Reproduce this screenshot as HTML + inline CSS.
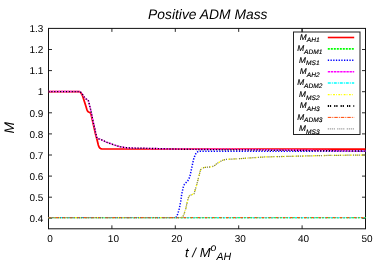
<!DOCTYPE html><html><head><meta charset="utf-8"><style>html,body{margin:0;padding:0;background:#fff}svg{display:block}svg{will-change:transform;transform:translateZ(0)}text{text-rendering:geometricPrecision;font-family:"Liberation Sans",sans-serif;fill:#000}</style></head><body>
<svg width="382" height="267" viewBox="0 0 382 267">
<rect width="382" height="267" fill="#fff"/>
<text x="207.8" y="18.6" font-size="13.85" font-style="italic" text-anchor="middle">Positive ADM Mass</text>
<rect x="48.5" y="28.4" width="317.0" height="200.4" fill="none" stroke="#111" stroke-width="1"/>
<text x="43.4" y="222.00" font-size="10" text-anchor="end">0.4</text>
<text x="43.4" y="200.90" font-size="10" text-anchor="end">0.5</text>
<text x="43.4" y="179.80" font-size="10" text-anchor="end">0.6</text>
<text x="43.4" y="158.70" font-size="10" text-anchor="end">0.7</text>
<text x="43.4" y="137.60" font-size="10" text-anchor="end">0.8</text>
<text x="43.4" y="116.50" font-size="10" text-anchor="end">0.9</text>
<text x="43.4" y="95.40" font-size="10" text-anchor="end">1</text>
<text x="43.4" y="74.30" font-size="10" text-anchor="end">1.1</text>
<text x="43.4" y="53.20" font-size="10" text-anchor="end">1.2</text>
<text x="43.4" y="32.10" font-size="10" text-anchor="end">1.3</text>
<text x="50.00" y="241.8" font-size="10" text-anchor="middle">0</text>
<text x="113.40" y="241.8" font-size="10" text-anchor="middle">10</text>
<text x="176.80" y="241.8" font-size="10" text-anchor="middle">20</text>
<text x="240.20" y="241.8" font-size="10" text-anchor="middle">30</text>
<text x="303.60" y="241.8" font-size="10" text-anchor="middle">40</text>
<text x="367.00" y="241.8" font-size="10" text-anchor="middle">50</text>
<path d="M48.50,218.30h3.5M365.50,218.30h-3.5M48.50,197.20h3.5M365.50,197.20h-3.5M48.50,176.10h3.5M365.50,176.10h-3.5M48.50,155.00h3.5M365.50,155.00h-3.5M48.50,133.90h3.5M365.50,133.90h-3.5M48.50,112.80h3.5M365.50,112.80h-3.5M48.50,91.70h3.5M365.50,91.70h-3.5M48.50,70.60h3.5M365.50,70.60h-3.5M48.50,49.50h3.5M365.50,49.50h-3.5M111.90,228.85v-3.5M111.90,28.40v3.5M175.30,228.85v-3.5M175.30,28.40v3.5M238.70,228.85v-3.5M238.70,28.40v3.5M302.10,228.85v-3.5M302.10,28.40v3.5" stroke="#111" stroke-width="0.9" fill="none"/>
<text transform="translate(14.1,127.8) rotate(-90)" font-size="13.9" font-style="italic" text-anchor="middle">M</text>
<text x="185.1" y="257" font-size="13.1" font-style="italic">t / M<tspan font-size="10.5" dy="-5.7">o</tspan><tspan font-size="10.6" dy="9.1" dx="0">AH</tspan></text>
<g clip-path="url(#c)">
<path d="M48.50,91.60 L79.30,91.60 L80.50,92.30 L81.50,93.80 L82.70,96.20 L83.90,100.00 L85.90,106.30 L86.80,109.20 L87.40,110.80 L88.20,111.80 L89.20,112.30 L90.20,112.70 L90.90,113.80 L91.40,115.70 L92.50,120.50 L95.50,134.00 L97.00,139.50 L98.30,145.00 L99.10,147.00 L99.90,148.10 L100.80,148.70 L101.80,148.90 L365.50,149.10" fill="none" stroke="#ff0000" stroke-width="1.75"/>
<path d="M48.50,217.60 L181.00,217.60" fill="none" stroke="#00ff00" stroke-width="0.9" stroke-dasharray="2,1"/>
<path d="M181.00,217.60 L365.50,217.60" fill="none" stroke="#00ff00" stroke-width="1.35" stroke-dasharray="2,1"/>
<path d="M48.50,217.60 L175.80,217.60" fill="none" stroke="#0000ff" stroke-width="0.9" stroke-dasharray="1.3,1.5"/>
<path d="M175.80,217.60 L176.80,216.30 L177.80,213.80 L179.40,208.30 L180.90,200.40 L181.70,194.20 L183.30,187.10 L184.50,184.20 L185.70,183.00 L187.80,180.70 L189.00,178.60 L189.80,176.60 L190.90,171.90 L192.20,165.60 L193.60,159.30 L195.20,154.60 L196.80,152.20 L198.80,151.30 L365.50,151.30" fill="none" stroke="#0000ff" stroke-width="1.5" stroke-dasharray="1.3,1.5"/>
<path d="M48.50,91.60 L79.60,91.60 L80.80,92.40 L81.90,93.50 L83.50,96.00 L85.00,98.20 L86.40,99.20 L87.80,99.90 L88.50,101.00 L89.00,103.10 L89.80,106.20 L90.60,109.40 L91.80,115.00 L92.80,120.20 L94.50,127.50 L95.80,133.50 L96.50,136.80 L97.00,138.10 L97.80,138.70 L100.20,139.20 L102.50,140.20 L105.70,141.90 L108.50,142.90 L111.30,143.90 L114.00,144.90 L116.80,145.80 L120.00,146.70 L124.00,147.40 L130.00,148.00 L136.00,148.20 L150.00,148.40 L172.00,149.00 L200.00,149.20 L230.00,149.30 L290.00,150.00 L340.00,150.80 L365.50,151.00" fill="none" stroke="#ff38ff" stroke-width="1.5" stroke-dasharray="2.4,0.7"/>
<path d="M48.50,217.60 L365.50,217.60" fill="none" stroke="#00ffff" stroke-width="1.35" stroke-dasharray="3,1,1,1"/>
<path d="M48.50,217.60 L181.70,217.60 L183.00,216.50 L184.10,213.80 L185.70,209.10 L187.20,202.00 L188.80,196.50 L189.80,195.40 L191.20,195.00 L194.00,193.80 L195.10,190.20 L196.70,184.70 L198.80,176.60 L200.40,170.30 L201.20,168.80 L202.00,168.00 L205.10,167.40 L210.80,166.90 L212.60,166.50 L214.90,165.30 L216.50,163.80 L219.00,162.30 L221.20,161.00 L223.50,160.00 L226.00,159.40 L237.40,158.80 L253.10,157.70 L265.70,156.90 L300.00,156.10 L330.00,155.40 L365.50,155.00" fill="none" stroke="#ffff00" stroke-width="1.35" stroke-dasharray="1.8,1.1,0.8,1.6"/>
<path d="M48.50,91.60 L79.60,91.60 L80.80,92.40 L81.90,93.50 L83.50,96.00 L85.00,98.20 L86.40,99.20 L87.80,99.90 L88.50,101.00 L89.00,103.10 L89.80,106.20 L90.60,109.40 L91.80,115.00 L92.80,120.20 L94.50,127.50 L95.80,133.50 L96.50,136.80 L97.00,138.10 L97.80,138.70 L100.20,139.20 L102.50,140.20 L105.70,141.90 L108.50,142.90 L111.30,143.90 L114.00,144.90 L116.80,145.80 L120.00,146.70 L124.00,147.40 L130.00,148.00 L136.00,148.20 L150.00,148.40 L172.00,149.00 L200.00,149.50 L245.00,149.90 L300.00,150.50 L365.50,151.10" fill="none" stroke="#000000" stroke-width="1.4" stroke-dasharray="1.1,1.8"/>
<path d="M48.50,217.60 L365.50,217.60" fill="none" stroke="#ee5c14" stroke-width="1.35" stroke-dasharray="2.8,1.4,0.7,2.2"/>
<path d="M48.50,217.60 L181.70,217.60 L183.00,216.50 L184.10,213.80 L185.70,209.10 L187.20,202.00 L188.80,196.50 L189.80,195.40 L191.20,195.00 L194.00,193.80 L195.10,190.20 L196.70,184.70 L198.80,176.60 L200.40,170.30 L201.20,168.80 L202.00,168.00 L205.10,167.40 L210.80,166.90 L212.60,166.50 L214.90,165.30 L216.50,163.80 L219.00,162.30 L221.20,161.00 L223.50,160.00 L226.00,159.40 L237.40,158.80 L253.10,157.70 L265.70,156.90 L300.00,156.10 L330.00,155.40 L365.50,155.00" fill="none" stroke="#707070" stroke-width="1.2" stroke-dasharray="1,1,1,1,1,1,1,2.5"/>
</g>
<rect x="293.5" y="32.0" width="66.5" height="102.5" fill="#fff" stroke="#222" stroke-width="1"/>
<path d="M302.10,28.40v3.8" stroke="#111" stroke-width="0.9"/>
<path d="M327.8,37.50H354.2" fill="none" stroke="#ff0000" stroke-width="1.6"/>
<text x="319.60" y="39.85" font-size="8.3" font-style="italic" text-anchor="end" stroke="#000" stroke-width="0.15">M<tspan font-size="6.6" dy="2.6">AH1</tspan></text>
<path d="M327.8,48.90H354.2" fill="none" stroke="#00ff00" stroke-width="1.6" stroke-dasharray="2,1"/>
<text x="322.40" y="51.25" font-size="8.3" font-style="italic" text-anchor="end" stroke="#000" stroke-width="0.15">M<tspan font-size="6.6" dy="2.6">ADM1</tspan></text>
<path d="M327.8,60.30H354.2" fill="none" stroke="#0000ff" stroke-width="1.5" stroke-dasharray="1.3,1.4"/>
<text x="319.60" y="62.65" font-size="8.3" font-style="italic" text-anchor="end" stroke="#000" stroke-width="0.15">M<tspan font-size="6.6" dy="2.6">MS1</tspan></text>
<path d="M327.8,71.70H354.2" fill="none" stroke="#ff00ff" stroke-width="1.4" stroke-dasharray="2.4,0.7"/>
<text x="319.60" y="74.05" font-size="8.3" font-style="italic" text-anchor="end" stroke="#000" stroke-width="0.15">M<tspan font-size="6.6" dy="2.6">AH2</tspan></text>
<path d="M327.8,83.10H354.2" fill="none" stroke="#00ffff" stroke-width="1.5" stroke-dasharray="3,1,1,1"/>
<text x="322.40" y="85.45" font-size="8.3" font-style="italic" text-anchor="end" stroke="#000" stroke-width="0.15">M<tspan font-size="6.6" dy="2.6">ADM2</tspan></text>
<path d="M327.8,94.60H354.2" fill="none" stroke="#ffff00" stroke-width="1.4" stroke-dasharray="1.8,1.1,0.8,1.6"/>
<text x="319.60" y="96.95" font-size="8.3" font-style="italic" text-anchor="end" stroke="#000" stroke-width="0.15">M<tspan font-size="6.6" dy="2.6">MS2</tspan></text>
<path d="M327.8,106.00H354.2" fill="none" stroke="#000000" stroke-width="2.0" stroke-dasharray="1.2,0.9,1.2,3.1"/>
<text x="319.60" y="108.35" font-size="8.3" font-style="italic" text-anchor="end" stroke="#000" stroke-width="0.15">M<tspan font-size="6.6" dy="2.6">AH3</tspan></text>
<path d="M327.8,117.40H354.2" fill="none" stroke="#ff4500" stroke-width="1.0" stroke-dasharray="3.5,1,1,1"/>
<text x="322.40" y="119.75" font-size="8.3" font-style="italic" text-anchor="end" stroke="#000" stroke-width="0.15">M<tspan font-size="6.6" dy="2.6">ADM3</tspan></text>
<path d="M327.8,128.80H354.2" fill="none" stroke="#888888" stroke-width="1.3" stroke-dasharray="1,1,1,1,1,1,1,2.5"/>
<text x="319.60" y="131.15" font-size="8.3" font-style="italic" text-anchor="end" stroke="#000" stroke-width="0.15">M<tspan font-size="6.6" dy="2.6">MS3</tspan></text>
</svg></body></html>
